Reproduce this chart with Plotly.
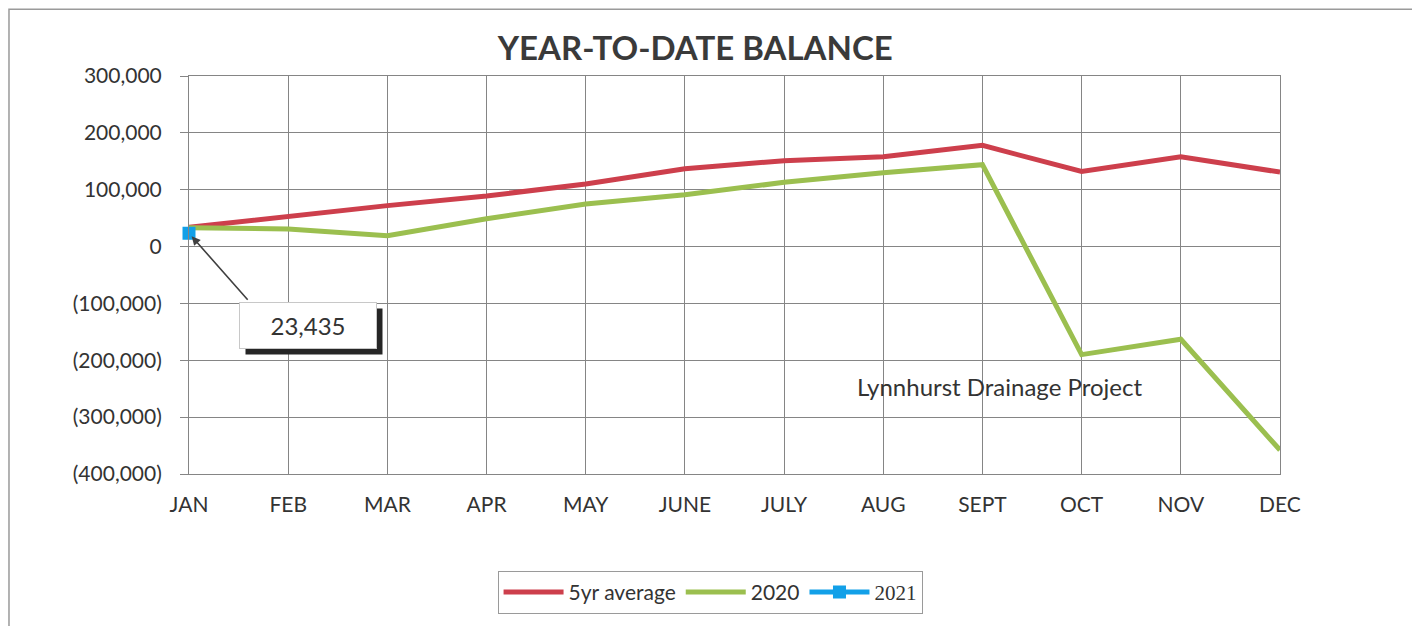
import plotly.graph_objects as go

months = ["JAN", "FEB", "MAR", "APR", "MAY", "JUNE", "JULY", "AUG", "SEPT", "OCT", "NOV", "DEC"]
avg_5yr = [34000, 54000, 72000, 89000, 110000, 137000, 151000, 158000, 178000, 132000, 158000, 131000]
y2020 = [33000, 31000, 19000, 49000, 75000, 91000, 113000, 130000, 144000, -190000, -163000, -358000]
y2021 = [23435]
y_ticks = [300000, 200000, 100000, 0, -100000, -200000, -300000, -400000]
y_tick_text = ["300,000", "200,000", "100,000", "0", "(100,000)", "(200,000)", "(300,000)", "(400,000)"]

FONT = "Lato"
TXT = "#333333"
GRID = "#858585"

fig = go.Figure()
fig.add_trace(go.Scatter(x=months, y=avg_5yr, name="5yr average", mode="lines",
                         line=dict(color="#CD3F4C", width=5), cliponaxis=False))
fig.add_trace(go.Scatter(x=months, y=y2020, name="2020", mode="lines",
                         line=dict(color="#9BBF4F", width=5), cliponaxis=False))
fig.add_trace(go.Scatter(x=months[:len(y2021)], y=y2021,
                         name='<span style="font-family:Liberation Serif">2021</span>',
                         mode="lines+markers",
                         line=dict(color="#12A0E8", width=5),
                         marker=dict(symbol="square", size=13, color="#12A0E8"),
                         cliponaxis=False))

# frame around the whole chart
fig.add_shape(type="rect", xref="paper", yref="paper", x0=-0.165, x1=1.127, y0=-0.40, y1=1.168,
              line=dict(color="#9a9a9a", width=1.5), layer="below")

# data label callout for 2021
fig.add_annotation(x=months[0], y=y2021[0], xref="x", yref="y", text="",
                   showarrow=True, ax=60, ay=68, arrowhead=2, arrowsize=1.1,
                   arrowwidth=1.6, arrowcolor="#404040", standoff=4)
fig.add_annotation(xref="paper", yref="paper", x=0.1145, y=0.3575, xanchor="center", yanchor="middle",
                   text="", showarrow=False, width=134, height=43, bgcolor="#262626")
fig.add_annotation(xref="paper", yref="paper", x=0.109, y=0.372, xanchor="center", yanchor="middle",
                   text=f"{y2021[0]:,}", showarrow=False, width=132, height=41,
                   bgcolor="white", bordercolor="#c8c8c8", borderwidth=1, borderpad=2,
                   font=dict(family=FONT, size=24, color=TXT))
fig.add_annotation(xref="paper", yref="paper", x=0.743, y=0.22, xanchor="center", yanchor="middle",
                   text="Lynnhurst Drainage Project",
                   showarrow=False, font=dict(family=FONT, size=24, color=TXT))

fig.update_layout(
    width=1412, height=618,
    plot_bgcolor="white", paper_bgcolor="white",
    margin=dict(l=181, r=140, t=68, b=150),
    title=dict(text="<b>YEAR-TO-DATE BALANCE</b>", x=0.464, xref="paper", xanchor="center",
               y=0.935, yanchor="middle", font=dict(family=FONT, size=33, color="#3a3a3a")),
    font=dict(family=FONT, size=21, color=TXT),
    legend=dict(orientation="h", x=0.4776, y=-0.2975, xanchor="center", yanchor="middle",
                bordercolor="#9a9a9a", borderwidth=1, bgcolor="white",
                font=dict(family=FONT, size=21, color=TXT), itemwidth=60,
                tracegroupgap=0),
    showlegend=True,
)
fig.update_xaxes(type="category", range=[0, len(months) - 1], showgrid=True, gridcolor=GRID,
                 gridwidth=1, showline=True, linecolor=GRID, mirror=True,
                 ticks="outside", ticklen=12, tickcolor="rgba(0,0,0,0)",
                 tickfont=dict(family=FONT, size=21, color=TXT))
fig.update_yaxes(range=[-400000, 300000], tickvals=y_ticks, ticktext=y_tick_text,
                 showgrid=True, gridcolor=GRID, gridwidth=1, showline=True, linecolor=GRID,
                 mirror=True, zeroline=False, ticks="outside", ticklen=8, tickcolor=GRID,
                 ticklabelstandoff=14,
                 tickfont=dict(family=FONT, size=21, color=TXT))

fig.write_html("out.html")
